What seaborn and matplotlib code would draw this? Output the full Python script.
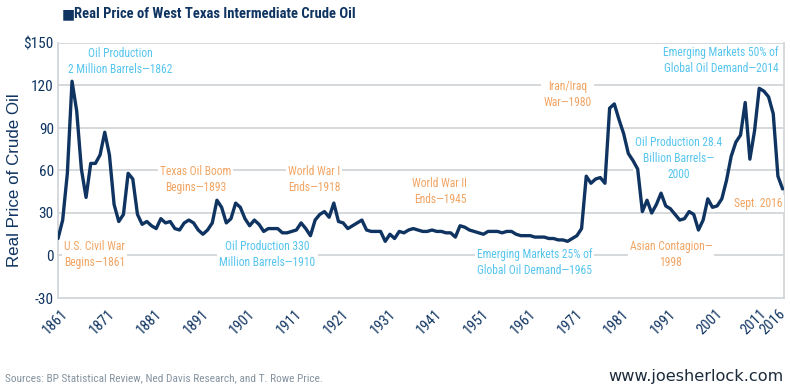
import matplotlib
matplotlib.use("Agg")
import matplotlib.pyplot as plt
import matplotlib.transforms as mtransforms
from matplotlib import font_manager
import seaborn as sns
import pandas as pd

years = list(range(1861, 2017))
prices = [
    12, 25, 58, 123, 102, 61, 41, 65, 65, 71,          # 1861-1870
    87, 71, 36, 24, 29, 58, 54, 29, 22, 24,            # 1871-1880
    21, 19, 26, 23, 24, 19, 18, 23, 25, 23,            # 1881-1890
    18, 15, 18, 23, 39, 34, 23, 26, 37, 34,            # 1891-1900
    26, 21, 25, 22, 17, 19, 19, 19, 16, 16,            # 1901-1910
    17, 18, 23, 19, 14, 25, 29, 31, 27, 37,            # 1911-1920
    24, 23, 19, 21, 23, 25, 18, 17, 17, 17,            # 1921-1930
    10, 15, 12, 17, 16, 18, 19, 18, 17, 17,            # 1931-1940
    18, 17, 17, 16, 16, 13, 21, 20, 18, 17,            # 1941-1950
    16, 15, 17, 17, 17, 16, 17, 17, 15, 14,            # 1951-1960
    14, 14, 13, 13, 13, 12, 12, 11, 11, 10,            # 1961-1970
    12, 14, 19, 56, 51, 54, 55, 51, 104, 107,          # 1971-1980
    96, 86, 72, 67, 61, 31, 39, 30, 36, 44,            # 1981-1990
    35, 33, 29, 25, 26, 31, 29, 18, 25, 40,            # 1991-2000
    34, 35, 40, 53, 70, 80, 85, 108, 68, 88,           # 2001-2010
    118, 116, 112, 100, 56, 47,                        # 2011-2016
]
tick_years = [1861, 1871, 1881, 1891, 1901, 1911, 1921, 1931, 1941,
              1951, 1961, 1971, 1981, 1991, 2001, 2011, 2016]
y_ticks = [-30, 0, 30, 60, 90, 120, 150]
y_tick_labels = ["-30", "0", "30", "60", "90", "120", "$150"]

orange_notes = [
    ("U.S. Civil War\nBegins\u20141861", 1862.3, 0.7, "left"),
    ("Texas Oil Boom\nBegins\u20141893", 1890.4, 53.6, "center"),
    ("World War I\nEnds\u20141918", 1915.8, 53.6, "center"),
    ("World War II\nEnds\u20141945", 1942.7, 45.2, "center"),
    ("Iran/Iraq\nWar\u20141980", 1970.0, 113.6, "center"),
    ("Asian Contagion\u2014\n1998", 1992.1, 0.7, "center"),
    ("Sept. 2016", 2010.7, 36.7, "center"),
]
cyan_notes = [
    ("Oil Production\n2 Million Barrels\u20141862", 1874.4, 136.9, "center"),
    ("Oil Production 330\nMillion Barrels\u20141910", 1905.8, 0.7, "center"),
    ("Emerging Markets 25% of\nGlobal Oil Demand\u20141965", 1962.9, -4.9, "center"),
    ("Oil Production 28.4\nBillion Barrels\u2014\n2000", 1993.8, 68.5, "center"),
    ("Emerging Markets 50% of\nGlobal Oil Demand\u20142014", 2002.8, 137.6, "center"),
]

NAVY = "#0f3461"
ORANGE = "#f2a463"
CYAN = "#56c5ee"
GRID = "#d3d7d9"

sns.set_theme(style="white")
names = {f.name for f in font_manager.fontManager.ttflist}
narrow = "Liberation Sans"
for cand in ["Arial Narrow", "Liberation Sans Narrow", "Roboto Condensed",
             "Archivo Narrow", "PT Sans Narrow", "Asap Condensed",
             "Barlow Semi Condensed"]:
    if cand in names:
        narrow = cand
        break
plt.rcParams["font.family"] = [narrow, "DejaVu Sans"]

df = pd.DataFrame({"year": years, "price": prices})

fig = plt.figure(figsize=(7.9, 3.9), dpi=100)
ax = fig.add_axes([58 / 790, 1 - 298 / 390, (784 - 58) / 790, (298 - 43) / 390])

sns.lineplot(data=df, x="year", y="price", ax=ax, color=NAVY, linewidth=2.4, zorder=5)

ax.set_xlim(1861, 2016.3)
ax.set_ylim(-30, 150)
ax.set_yticks(y_ticks)
ax.set_yticklabels(y_tick_labels)
ax.set_xticks(tick_years)
ax.set_xticklabels([str(y) for y in tick_years], rotation=45, ha="right",
                   rotation_mode="anchor")
ax.tick_params(axis="both", colors=NAVY, labelsize=11, length=0, pad=3)
ax.tick_params(axis="x", pad=6, labelsize=10.5)
xlabels = ax.get_xticklabels()
n = len(xlabels)
for i, lab in enumerate(xlabels):
    lab.set_color(NAVY)
    if i < n - 2:
        dx = 3
    elif i == n - 2:
        dx = 0
    else:
        dx = -4
    lab.set_transform(lab.get_transform()
                      + mtransforms.ScaledTranslation(dx / 100, 0, fig.dpi_scale_trans))
for lab in ax.get_yticklabels():
    lab.set_color(NAVY)

for y in [0, 30, 60, 90, 120, 150]:
    ax.axhline(y, color=GRID, linewidth=1.3, zorder=1)
for s in ["left", "bottom", "right"]:
    ax.spines[s].set_color(GRID)
    ax.spines[s].set_linewidth(1.3)
ax.spines["top"].set_visible(False)

ax.set_xlabel("")
ax.set_ylabel("Real Price of Crude Oil", color=NAVY, fontsize=12.2,
              family=["Liberation Sans", "DejaVu Sans"])
ax.yaxis.set_label_coords(-0.05, 0.463)

box = dict(facecolor="white", edgecolor="none", pad=1.5)
for text, x, y, ha in orange_notes:
    ax.text(x, y, text, color=ORANGE, fontsize=8.3, ha=ha, va="center",
            multialignment=ha, linespacing=1.3, bbox=box, zorder=3)
for text, x, y, ha in cyan_notes:
    ax.text(x, y, text, color=CYAN, fontsize=8.3, ha=ha, va="center",
            multialignment=ha, linespacing=1.3, bbox=box, zorder=3)

fig.text(62 / 790, 1 - 14 / 390, "\u25A0", color=NAVY, fontsize=10,
         va="center", ha="left", family="DejaVu Sans")
fig.text(74 / 790, 1 - 14 / 390, "Real Price of West Texas Intermediate Crude Oil",
         color=NAVY, fontsize=10.5, fontweight="bold", va="center", ha="left")

fig.text(5 / 790, 1 - 378 / 390,
         "Sources: BP Statistical Review, Ned Davis Research, and T. Rowe Price.",
         color="#8593a0", fontsize=8.2, va="center", ha="left")
fig.text(784 / 790, 1 - 377 / 390, "www.joesherlock.com", color="#1c2b3b",
         fontsize=11.6, va="center", ha="right", family="DejaVu Sans")

fig.savefig("out.png", dpi=100)
